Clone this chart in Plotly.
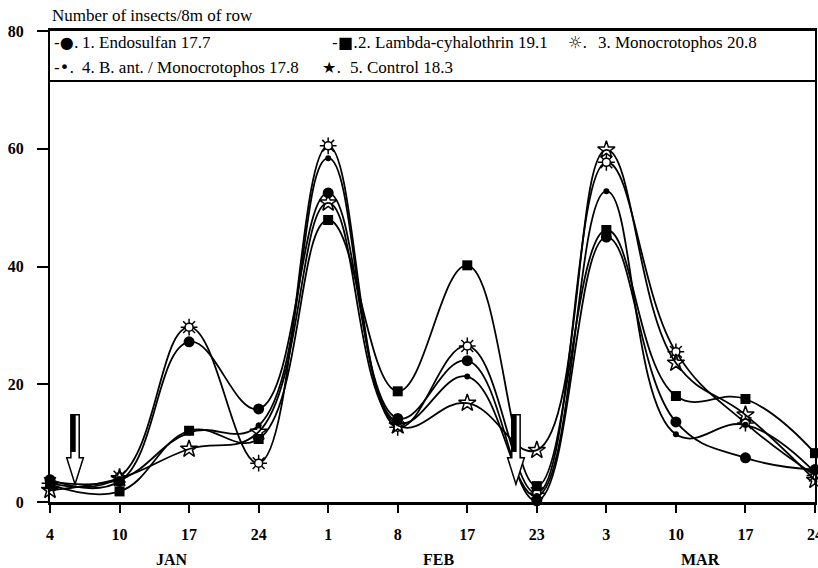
import plotly.graph_objects as go

# ---------------- data ----------------
dates = ["4", "10", "17", "24", "1", "8", "17", "23", "3", "10", "17", "24"]
months = ["JAN", "FEB", "MAR"]
month_pos = [1.75, 5.58, 9.35]

endosulfan = [3.8, 3.5, 27.2, 15.8, 52.5, 14.2, 24.0, 0.2, 45.0, 13.6, 7.5, 5.5]
lambda_cyh = [3.0, 1.8, 12.1, 10.7, 47.9, 18.8, 40.2, 2.7, 46.2, 18.0, 17.5, 8.3]
monocroto = [3.2, 4.3, 29.7, 6.6, 60.5, 12.7, 26.5, 1.5, 57.7, 25.5, 13.4, 4.5]
bant_mono = [3.5, 3.8, 11.8, 13.0, 58.4, 13.5, 21.3, 1.0, 52.8, 11.5, 13.1, 5.0]
control = [2.0, 4.0, 9.0, 11.9, 50.8, 13.0, 16.8, 8.8, 59.8, 23.6, 14.8, 3.7]

legend_labels = ["1. Endosulfan 17.7", "2. Lambda-cyhalothrin 19.1",
                 "3. Monocrotophos 20.8", "4. B. ant. / Monocrotophos 17.8",
                 "5. Control 18.3"]
legend_symbols = ["-\u25cf.", "-\u25a0.", "\u263c.", "-\u2022.", "\u2605."]

y_ticks = [0, 20, 40, 60, 80]
arrow_x = [0.36, 6.70]          # spray application arrows (x index)
arrow_top, arrow_tip = 14.8, 3.0

x = list(range(len(dates)))
SERIF = "Liberation Serif, Times New Roman, serif"

fig = go.Figure()
line = dict(color="black", width=1.8, shape="spline", smoothing=1.2)

# Monocrotophos spikes (drawn first, behind the open circle)
fig.add_trace(go.Scatter(x=x, y=monocroto, mode="markers", cliponaxis=False,
                         marker=dict(symbol="asterisk-open", size=14, color="black",
                                     line=dict(color="black", width=1.5)),
                         showlegend=False, hoverinfo="skip"))
fig.add_trace(go.Scatter(x=x, y=monocroto, mode="lines+markers", line=line,
                         cliponaxis=False, name=legend_labels[2],
                         marker=dict(symbol="circle", size=8, color="white",
                                     line=dict(color="black", width=1.5))))
fig.add_trace(go.Scatter(x=x, y=control, mode="lines+markers", line=line,
                         cliponaxis=False, name=legend_labels[4],
                         marker=dict(symbol="star-open", size=13, color="black",
                                     line=dict(color="black", width=1.5))))
fig.add_trace(go.Scatter(x=x, y=bant_mono, mode="lines+markers", line=line,
                         cliponaxis=False, name=legend_labels[3],
                         marker=dict(symbol="circle", size=6, color="black")))
fig.add_trace(go.Scatter(x=x, y=lambda_cyh, mode="lines+markers", line=line,
                         cliponaxis=False, name=legend_labels[1],
                         marker=dict(symbol="square", size=10, color="black")))
fig.add_trace(go.Scatter(x=x, y=endosulfan, mode="lines+markers", line=line,
                         cliponaxis=False, name=legend_labels[0],
                         marker=dict(symbol="circle", size=11, color="black")))

# ---------------- arrows ----------------
shapes = []
hw, hh, head_start = 0.06, 0.12, 7.5
for ax in arrow_x:
    path = (f"M {ax-hw},{arrow_top} L {ax+hw},{arrow_top} L {ax+hw},{head_start} "
            f"L {ax+hh},{head_start} L {ax},{arrow_tip} L {ax-hh},{head_start} "
            f"L {ax-hw},{head_start} Z")
    shapes.append(dict(type="path", xref="x", yref="y", path=path,
                       fillcolor="white", line=dict(color="black", width=1.5),
                       layer="above"))
    shapes.append(dict(type="rect", xref="x", yref="y", x0=ax - hw, x1=ax + 0.01,
                       y0=head_start + 1, y1=arrow_top, fillcolor="black",
                       line=dict(width=0), layer="above"))

# legend box bottom line
L, R, T, B = 50, 3, 31, 66
W, H = 818, 568
pw, ph = W - L - R, H - T - B


def px(xp):
    return (xp - L) / pw


def py(yp):
    return (H - B - yp) / ph


shapes.append(dict(type="line", xref="paper", yref="paper", x0=0, x1=1,
                   y0=py(81), y1=py(81), line=dict(color="black", width=2)))

annotations = []
legend_sym_x = [52, 330, 566, 52, 320]
legend_txt_x = [80, 356, 596, 80, 348]
legend_row_y = [42, 42, 42, 67, 67]
for sym, lab, sx, tx, ry in zip(legend_symbols, legend_labels, legend_sym_x,
                                legend_txt_x, legend_row_y):
    annotations.append(dict(text=sym, x=px(sx), y=py(ry), xref="paper", yref="paper",
                            xanchor="left", yanchor="middle", showarrow=False,
                            font=dict(family="DejaVu Sans", size=16, color="black")))
    annotations.append(dict(text=lab, x=px(tx), y=py(ry), xref="paper", yref="paper",
                            xanchor="left", yanchor="middle", showarrow=False,
                            font=dict(family=SERIF, size=17, color="black")))

annotations.append(dict(text="Number of insects/8m of row", x=0, y=py(15),
                        xref="paper", yref="paper", xanchor="left", yanchor="middle",
                        showarrow=False, font=dict(family=SERIF, size=17, color="black")))
for m, mp in zip(months, month_pos):
    annotations.append(dict(text=m, x=mp, y=py(559), xref="x", yref="paper",
                            xanchor="center", yanchor="middle", showarrow=False,
                            font=dict(family=SERIF, size=16, color="black", weight="bold")))

fig.update_layout(
    width=W, height=H, margin=dict(l=L, r=R, t=T, b=B, autoexpand=False),
    paper_bgcolor="white", plot_bgcolor="white", showlegend=False,
    shapes=shapes, annotations=annotations,
    xaxis=dict(range=[0, 11], tickvals=x, ticktext=dates, ticks="outside",
               ticklen=8, tickwidth=1.5, tickcolor="black", showline=True,
               linewidth=3, linecolor="black", mirror=True, showgrid=False,
               zeroline=False, ticklabeloverflow="allow", ticklabelstandoff=8,
               tickfont=dict(family=SERIF, size=16, color="black", weight="bold")),
    yaxis=dict(range=[0, 80], tickvals=y_ticks, ticks="outside", ticklen=11,
               tickwidth=2, tickcolor="black", showline=True, linewidth=2,
               linecolor="black", mirror=True, showgrid=False, zeroline=False,
               ticklabelstandoff=10,
               tickfont=dict(family=SERIF, size=16, color="black", weight="bold")),
)

fig.write_html("out.html")
